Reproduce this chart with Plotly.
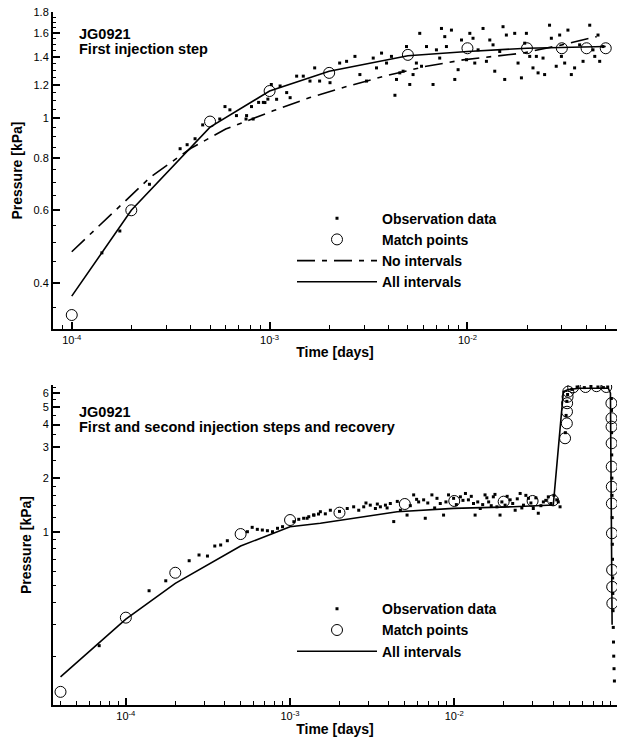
import plotly.graph_objects as go
from plotly.subplots import make_subplots
import math

# ---------------- Top chart: first injection step ----------------
obs1_t = [1.42e-4, 1.75e-4, 2.47e-4, 3.53e-4, 3.83e-4, 4.2e-4, 4.59e-4, 5.6e-4, 5.95e-4, 6.3e-4,
          6.8e-4, 7.6e-4, 8.1e-4, 8.8e-4, 9.3e-4, 9.8e-4,
          7.65e-4, 8.26e-4, 9.47e-4, 1.02e-3, 1.085e-3, 1.13e-3, 1.22e-3, 1.27e-3, 1.37e-3, 1.48e-3,
          1.60e-3, 1.69e-3, 1.79e-3, 2.02e-3, 2.26e-3, 2.45e-3, 2.70e-3, 2.86e-3, 3.09e-3, 3.34e-3,
          3.47e-3, 3.68e-3, 3.90e-3, 4.13e-3, 4.3e-3, 4.38e-3, 4.55e-3, 4.73e-3, 4.92e-3, 5.11e-3,
          5.31e-3, 5.52e-3, 5.74e-3, 5.86e-3, 6.21e-3, 6.70e-3, 6.97e-3, 7.24e-3, 7.39e-3, 7.68e-3,
          7.83e-3, 8.30e-3, 8.63e-3, 8.97e-3, 9.33e-3, 9.89e-3, 1.028e-2, 1.067e-2, 1.089e-2, 1.132e-2,
          1.199e-2, 1.247e-2, 1.297e-2, 1.347e-2, 1.374e-2, 1.456e-2, 1.513e-2, 1.543e-2, 1.573e-2,
          1.733e-2, 1.802e-2, 1.874e-2, 1.947e-2, 1.986e-2, 2.064e-2, 2.144e-2, 2.23e-2, 2.275e-2,
          2.41e-2, 2.455e-2, 2.60e-2, 2.655e-2, 2.81e-2, 2.925e-2, 2.985e-2, 3.10e-2, 3.22e-2,
          3.35e-2, 3.48e-2, 3.69e-2, 3.84e-2, 4.15e-2, 4.31e-2, 4.40e-2, 4.57e-2, 4.66e-2, 4.84e-2]
obs1_p = [0.473, 0.534, 0.692, 0.843, 0.862, 0.891, 0.962, 0.994, 1.065, 1.046,
          1.013, 0.994, 1.065, 1.09, 1.09, 1.11,
          1.013, 0.994, 1.089, 1.204, 1.109, 1.194, 1.151, 1.119, 1.261, 1.261,
          1.227, 1.320, 1.227, 1.216, 1.356, 1.369, 1.407, 1.272, 1.227, 1.394,
          1.320, 1.433, 1.356, 1.407, 1.134, 1.238, 1.284, 1.296, 1.486, 1.204,
          1.272, 1.356, 1.599, 1.332, 1.486, 1.204, 1.459, 1.394, 1.643, 1.570,
          1.486, 1.628, 1.238, 1.307, 1.541, 1.381, 1.599, 1.556, 1.356, 1.459,
          1.643, 1.369, 1.541, 1.500, 1.296, 1.446, 1.659, 1.238, 1.584,
          1.599, 1.356, 1.249, 1.514, 1.599, 1.407, 1.320, 1.407, 1.284,
          1.394, 1.272, 1.673, 1.556, 1.332, 1.584, 1.407, 1.356, 1.628,
          1.272, 1.320, 1.500, 1.369, 1.673, 1.459, 1.407, 1.584, 1.369, 1.486]

match1_t = [1e-4, 2e-4, 5e-4, 1e-3, 2e-3, 5e-3, 1e-2, 2e-2, 3e-2, 4e-2, 5e-2]
match1_p = [0.335, 0.599, 0.98, 1.161, 1.284, 1.419, 1.472, 1.472, 1.472, 1.472, 1.472]

noint1_t = [1e-4, 2.5e-4, 4e-4, 6e-4, 1.04e-3, 1.6e-3, 2.45e-3, 3.9e-3, 6.2e-3, 9.5e-3, 1.9e-2, 3.0e-2, 4.5e-2]
noint1_p = [0.476, 0.72, 0.845, 0.94, 1.04, 1.12, 1.19, 1.265, 1.332, 1.38, 1.433, 1.50, 1.57]

all1_t = [1e-4, 2e-4, 5e-4, 1e-3, 2e-3, 5e-3, 1e-2, 2e-2, 5e-2]
all1_p = [0.372, 0.599, 0.95, 1.161, 1.296, 1.412, 1.446, 1.472, 1.486]

# ---------------- Bottom chart: both steps and recovery ----------------
obs2_t = [6.88e-5, 1.385e-4, 1.75e-4, 2.43e-4, 2.79e-4, 3.14e-4, 3.48e-4, 3.78e-4, 4.15e-4, 5.5e-4,
          5.88e-4, 6.32e-4, 6.78e-4, 7.28e-4, 7.82e-4, 8.39e-4, 9.0e-4, 1.055e-3, 1.13e-3, 1.21e-3,
          1.30e-3, 1.39e-3, 1.49e-3,
          1.27e-3, 1.40e-3, 1.53e-3, 1.64e-3, 1.76e-3, 2.23e-3, 2.44e-3, 2.62e-3, 2.81e-3, 3.08e-3,
          3.31e-3, 3.55e-3, 3.81e-3, 4.08e-3, 4.28e-3, 4.70e-3, 5.16e-3, 5.66e-3, 6.07e-3, 6.51e-3,
          6.66e-3, 7.31e-3, 7.85e-3, 8.22e-3, 8.61e-3, 9.23e-3, 9.91e-3, 1.09e-2, 1.17e-2, 1.22e-2,
          1.31e-2, 1.34e-2, 1.44e-2, 1.54e-2, 1.62e-2, 1.73e-2, 1.82e-2, 1.90e-2, 2.04e-2, 2.19e-2,
          2.35e-2, 2.52e-2, 2.64e-2, 2.83e-2, 3.03e-2, 3.25e-2, 3.49e-2, 3.74e-2, 4.21e-2, 4.41e-2,
          2.0e-3, 2.9e-3, 3.4e-3, 3.9e-3, 4.5e-3, 5.4e-3, 5.9e-3, 6.9e-3, 7.6e-3, 8.9e-3,
          1.03e-2, 1.13e-2, 1.27e-2, 1.39e-2, 1.49e-2, 1.58e-2, 1.68e-2, 1.77e-2, 1.95e-2, 2.1e-2,
          2.27e-2, 2.42e-2, 2.58e-2, 2.73e-2, 2.93e-2, 3.14e-2, 3.37e-2, 3.61e-2, 3.88e-2, 4.05e-2, 4.3e-2,
          0.0475, 0.048, 0.0485, 0.049, 0.052, 0.056, 0.062, 0.068, 0.075, 0.081, 0.086,
          0.0905, 0.0907, 0.0908, 0.0910, 0.0912, 0.0914, 0.0916, 0.0918, 0.0920, 0.0922,
          0.0924, 0.0927, 0.0930, 0.0933, 0.0936, 0.0940, 0.0945]
obs2_p = [0.229, 0.466, 0.530, 0.687, 0.740, 0.730, 0.831, 0.842, 0.890, 1.0,
          1.058, 1.031, 1.022, 1.013, 1.0, 1.045, 1.067, 1.138, 1.174, 1.19,
          1.214, 1.241, 1.257,
          1.19, 1.24, 1.295, 1.26, 1.32, 1.35, 1.38, 1.32, 1.38, 1.41,
          1.35, 1.38, 1.41, 1.44, 1.14, 1.32, 1.24, 1.61, 1.47, 1.51,
          1.19, 1.61, 1.54, 1.44, 1.24, 1.61, 1.54, 1.57, 1.64, 1.51,
          1.44, 1.24, 1.35, 1.61, 1.47, 1.57, 1.38, 1.24, 1.41, 1.51,
          1.32, 1.64, 1.41, 1.54, 1.35, 1.27, 1.47, 1.57, 1.51, 1.38,
          1.30, 1.45, 1.43, 1.36, 1.48, 1.40, 1.52, 1.45, 1.36, 1.47,
          1.42, 1.50, 1.58, 1.47, 1.42, 1.55, 1.40, 1.62, 1.47, 1.58,
          1.44, 1.53, 1.36, 1.60, 1.45, 1.55, 1.40, 1.50, 1.44, 1.60, 1.47,
          3.6, 4.5, 5.4, 5.9, 6.3, 6.5, 6.45, 6.55, 6.5, 6.45, 6.5,
          5.6, 4.8, 3.6, 2.7, 2.0, 1.6, 1.2, 0.85, 0.70, 0.55,
          0.45, 0.36, 0.29, 0.24, 0.20, 0.17, 0.145]

match2_t = [4e-5, 1e-4, 2e-4, 5e-4, 1e-3, 2e-3, 5e-3, 1e-2, 2e-2, 3e-2, 4e-2,
            0.0473, 0.0485, 0.0486, 0.0487, 0.049, 0.0495, 0.053, 0.063, 0.0735, 0.0843,
            0.0906, 0.0907, 0.0908, 0.0909, 0.0910, 0.0911, 0.0912, 0.0913, 0.0915, 0.0916, 0.0918]
match2_p = [0.126, 0.329, 0.588, 0.97, 1.163, 1.279, 1.431, 1.488, 1.475, 1.488, 1.50,
            3.35, 4.06, 4.72, 5.27, 5.73, 6.12, 6.47, 6.5, 6.57, 6.5,
            5.27, 4.34, 3.89, 3.14, 2.32, 1.79, 1.44, 0.98, 0.61, 0.49, 0.396]

all2_t = [4e-5, 1e-4, 2e-4, 5e-4, 1e-3, 1.53e-3, 4.49e-3, 9.9e-3, 2.29e-2, 4.01e-2,
          4.62e-2, 4.95e-2, 5.83e-2, 8.67e-2, 8.94e-2, 9.1e-2, 9.15e-2]
all2_p = [0.153, 0.323, 0.513, 0.831, 1.067, 1.115, 1.295, 1.353, 1.381, 1.412,
          6.12, 6.3, 6.4, 6.4, 6.0, 0.363, 0.30]

# tick labels
x_major = [1e-4, 1e-3, 1e-2]
x_major_text = ["10<sup>-4</sup>", "10<sup>-3</sup>", "10<sup>-2</sup>"]
y1_major = [0.4, 0.6, 0.8, 1.0, 1.2, 1.4, 1.6, 1.8]
y1_major_text = ["0.4", "0.6", "0.8", "1", "1.2", "1.4", "1.6", "1.8"]
y2_major = [1, 2, 3, 4, 5, 6]
y2_major_text = ["1", "2", "3", "4", "5", "6"]

# ---------------- figure ----------------
W, H = 617, 737
ML, MR, MT, MB = 53, 0, 12, 32
ph = H - MT - MB
plot_bottom = H - MB
top_dom = [(plot_bottom - 329) / ph, 1.0]
bot_dom = [0.0, (plot_bottom - 385) / ph]


def px_x(v):
    return (v - ML) / (W - ML - MR)


def px_y(v):
    return (plot_bottom - v) / ph


fig = make_subplots(rows=2, cols=1)
FONT = "Arial, Liberation Sans, sans-serif"

obs_marker = dict(symbol="square", size=3, color="black", line=dict(width=0))
circ_marker = dict(symbol="circle-open", size=11, color="black", line=dict(width=1, color="black"))

fig.add_trace(go.Scatter(x=obs1_t, y=obs1_p, mode="markers", marker=obs_marker,
                         name="Observation data", legend="legend"), row=1, col=1)
fig.add_trace(go.Scatter(x=match1_t, y=match1_p, mode="markers", marker=circ_marker,
                         name="Match points", legend="legend"), row=1, col=1)
fig.add_trace(go.Scatter(x=noint1_t, y=noint1_p, mode="lines",
                         line=dict(color="black", width=1.6, dash="18px,7px,5px,7px"),
                         name="No intervals", legend="legend"), row=1, col=1)
fig.add_trace(go.Scatter(x=all1_t, y=all1_p, mode="lines", line=dict(color="black", width=1.6),
                         name="All intervals", legend="legend"), row=1, col=1)

fig.add_trace(go.Scatter(x=obs2_t, y=obs2_p, mode="markers", marker=obs_marker,
                         name="Observation data", legend="legend2"), row=2, col=1)
fig.add_trace(go.Scatter(x=match2_t, y=match2_p, mode="markers", marker=circ_marker,
                         name="Match points", legend="legend2"), row=2, col=1)
fig.add_trace(go.Scatter(x=all2_t, y=all2_p, mode="lines", line=dict(color="black", width=1.6),
                         name="All intervals", legend="legend2"), row=2, col=1)


def minor_vals(lo, hi):
    vals = []
    for e in range(-6, 1):
        for m in range(2, 10):
            v = m * 10.0 ** e
            if lo < v < hi:
                vals.append(v)
    return vals


axis_common = dict(type="log", showline=True, linecolor="black", linewidth=2,
                   ticks="inside", ticklen=7, tickwidth=1.5, tickcolor="black",
                   showgrid=False, zeroline=False, mirror=False,
                   tickfont=dict(family=FONT, size=11, color="black"))
title_font = dict(family=FONT, size=14, color="black")

x1_range = [8.04e-5, 0.057]
x2_range = [3.6e-5, 0.098]
y1_range = [0.31, 1.80]
y2_range = [0.1063, 6.67]

fig.update_xaxes(**axis_common, row=1, col=1, domain=[0, 1],
                 range=[math.log10(v) for v in x1_range],
                 tickmode="array", tickvals=x_major, ticktext=x_major_text,
                 minor=dict(tickmode="array", tickvals=minor_vals(*x1_range), ticks="inside",
                            ticklen=4, tickwidth=1, tickcolor="black"),
                 title=dict(text="<b>Time [days]</b>", standoff=2, font=title_font))
fig.update_xaxes(**axis_common, row=2, col=1, domain=[0, 1],
                 range=[math.log10(v) for v in x2_range],
                 tickmode="array", tickvals=x_major, ticktext=x_major_text,
                 minor=dict(tickmode="array", tickvals=minor_vals(*x2_range), ticks="inside",
                            ticklen=4, tickwidth=1, tickcolor="black"),
                 title=dict(text="<b>Time [days]</b>", standoff=0, font=title_font))

y1_minor = [0.35, 0.45, 0.5, 0.55, 0.65, 0.7, 0.75, 0.85, 0.9, 0.95, 1.05, 1.1, 1.15,
            1.25, 1.3, 1.35, 1.45, 1.5, 1.55, 1.65, 1.7, 1.75]
y2_minor = [0.2, 0.3, 0.4, 0.5, 0.6, 0.7, 0.8, 0.9, 1.2, 1.4, 1.6, 1.8, 2.5, 3.5, 4.5, 5.5, 6.5]

fig.update_yaxes(**axis_common, row=1, col=1, domain=top_dom,
                 range=[math.log10(v) for v in y1_range],
                 tickmode="array", tickvals=y1_major, ticktext=y1_major_text,
                 minor=dict(tickmode="array", tickvals=y1_minor, ticks="inside",
                            ticklen=3, tickwidth=1, tickcolor="black"),
                 title=dict(text="<b>Pressure [kPa]</b>", standoff=8, font=title_font))
fig.update_yaxes(**axis_common, row=2, col=1, domain=bot_dom,
                 range=[math.log10(v) for v in y2_range],
                 tickmode="array", tickvals=y2_major, ticktext=y2_major_text,
                 minor=dict(tickmode="array", tickvals=y2_minor, ticks="inside",
                            ticklen=3, tickwidth=1, tickcolor="black"),
                 title=dict(text="<b>Pressure [kPa]</b>", standoff=8, font=title_font))

txt_font = dict(family=FONT, size=14.5, color="black", weight="bold")
for txt, xp, yp in [("JG0921", 77, 34), ("First injection step", 77, 49),
                    ("JG0921", 77, 412), ("First and second injection steps and recovery", 77, 427)]:
    fig.add_annotation(text=txt, xref="paper", yref="paper", x=px_x(xp), y=px_y(yp),
                       xanchor="left", yanchor="middle", showarrow=False, align="left",
                       font=txt_font)

leg_common = dict(font=dict(family=FONT, size=14, color="black", weight="bold"),
                  bgcolor="rgba(0,0,0,0)", itemwidth=80, xanchor="left", yanchor="top",
                  tracegroupgap=0, traceorder="normal")
fig.update_layout(
    width=W, height=H, margin=dict(l=ML, r=MR, t=MT, b=MB),
    paper_bgcolor="white", plot_bgcolor="white", showlegend=True,
    legend=dict(**leg_common, x=px_x(292), y=px_y(202.6)),
    legend2=dict(**leg_common, x=px_x(292), y=px_y(593.2)),
)

fig.write_html("out.html", config={"displayModeBar": False},
               post_script="document.body.style.margin='0px';"
                           "document.documentElement.style.overflow='hidden';")
